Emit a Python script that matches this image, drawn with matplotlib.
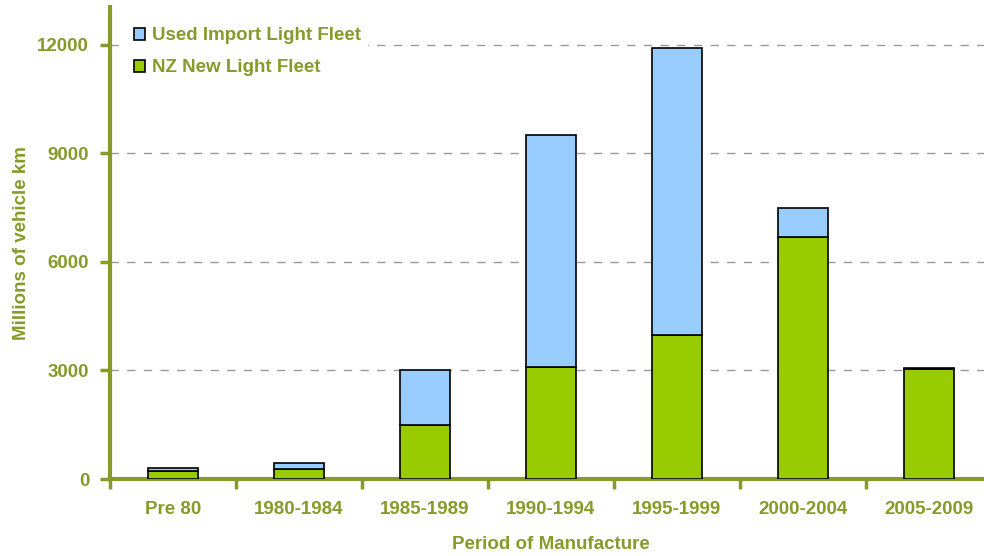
import numpy as np
import matplotlib.pyplot as plt
from matplotlib.ticker import FixedLocator

periods = ['Pre 80', '1980-1984', '1985-1989', '1990-1994', '1995-1999', '2000-2004', '2005-2009']
nz_new = [210, 285, 1500, 3090, 3970, 6690, 3030]
used_import = [90, 155, 1500, 6430, 7950, 800, 50]
yticks = [0, 3000, 6000, 9000, 12000]

olive = '#879A2A'
green = '#99CC00'
blue = '#99CCFF'
fs = 13.5

plt.rcParams['font.family'] = ['Liberation Sans', 'DejaVu Sans']
fig = plt.figure(figsize=(9.84, 5.56), dpi=100)
ax = fig.add_axes([110/984, 77/556, 882/984, 472/556])

x = np.arange(len(periods))
ax.bar(x, nz_new, width=0.4, color=green, edgecolor='black', linewidth=1.2,
       label='NZ New Light Fleet', zorder=3)
ax.bar(x, used_import, width=0.4, bottom=nz_new, color=blue, edgecolor='black',
       linewidth=1.2, label='Used Import Light Fleet', zorder=3)

ax.set_xlim(-0.5, len(periods) - 0.5)
ax.set_ylim(0, 13050)
ax.set_yticks(yticks)
ax.set_xticks(x)
ax.set_xticklabels(periods)
ax.xaxis.set_minor_locator(FixedLocator(np.arange(len(periods) + 1) - 0.5))
ax.tick_params(axis='x', which='major', length=0, pad=16)
ax.tick_params(axis='x', which='minor', length=7, width=2.5, color=olive, direction='out')
ax.tick_params(axis='y', length=7, width=2.5, color=olive, direction='out', pad=8)
for lab in ax.get_xticklabels() + ax.get_yticklabels():
    lab.set_fontweight('bold')
    lab.set_color(olive)
    lab.set_fontsize(fs)

for s in ['top', 'right']:
    ax.spines[s].set_visible(False)
for s in ['left', 'bottom']:
    ax.spines[s].set_color(olive)
    ax.spines[s].set_linewidth(3)

ax.yaxis.grid(True, linestyle=(0, (6, 6)), color='#999999', linewidth=1, zorder=0)

ax.set_ylabel('Millions of vehicle km', fontsize=fs, fontweight='bold', color=olive, labelpad=5)
ax.set_xlabel('Period of Manufacture', fontsize=fs, fontweight='bold', color=olive, labelpad=13)

h, l = ax.get_legend_handles_labels()
leg = ax.legend(h[::-1], l[::-1], loc='upper left', bbox_to_anchor=(0.012, 0.985),
                frameon=True, facecolor='white', edgecolor='none', framealpha=1,
                handlelength=0.6, handleheight=0.6, handletextpad=0.35,
                borderaxespad=0.3, labelspacing=0.8, prop={'weight': 'bold', 'size': fs})
leg.set_zorder(5)
for t in leg.get_texts():
    t.set_color(olive)

fig.savefig('out.png', dpi=100)
